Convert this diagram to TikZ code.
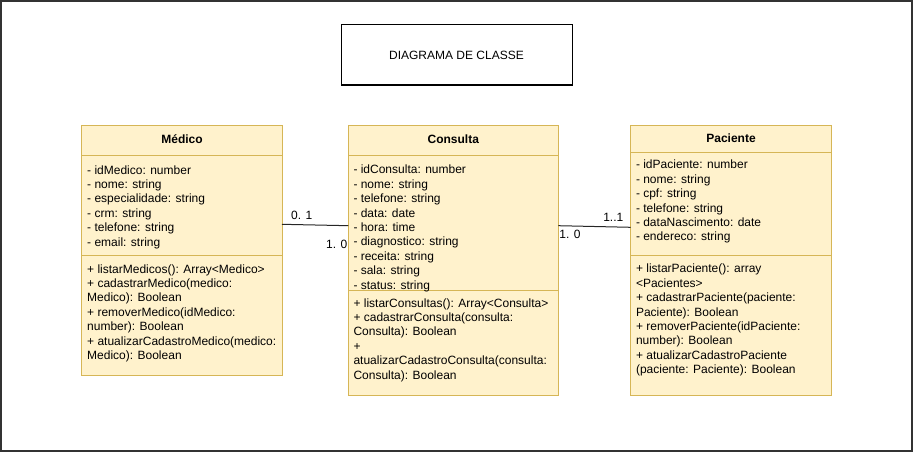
\documentclass[tikz,border=0pt]{standalone}
\usepackage{fontspec}
\setmainfont{Liberation Sans}
\definecolor{umlfill}{HTML}{FFF2CC}
\definecolor{umlstroke}{HTML}{D6B656}
\begin{document}
\begin{tikzpicture}[x=1pt,y=-1pt]
\tikzset{
  frame/.style={draw=black!80, line width=1.5pt},
  cls/.style={draw=umlstroke, fill=umlfill, line width=1pt, inner sep=0pt, outer sep=0pt, anchor=north west},
  sepline/.style={draw=umlstroke, line width=1pt},
  hdr/.style={font=\fontsize{12}{14.4}\selectfont\bfseries, inner sep=0pt, anchor=base},
  body/.style={font=\fontsize{12}{14.4}\selectfont, align=left, inner sep=0pt, anchor=north west},
  mult/.style={font=\fontsize{12}{14.4}\selectfont, inner sep=0pt, anchor=center},
  titlebox/.style={draw=black, line width=1pt, font=\fontsize{12}{14.4}\selectfont, minimum width=231pt, minimum height=60pt, inner sep=0pt},
  assoc/.style={draw=black!85, line width=1pt},
}
\useasboundingbox (0,0) rectangle (913,452);
\draw[frame] (1,1) rectangle (912,451);

% title
\node[titlebox] (title) at (456.5,55) {DIAGRAMA DE CLASSE};

% Medico
\node[cls, minimum width=200.5pt, minimum height=250pt] (medico) at (81.5,125) {};
\draw[sepline] (81.5,155) -- (282,155);
\draw[sepline] (81.5,255.5) -- (282,255.5);
\node[hdr] (medicoH) at (182,143.6) {Médico};
\node[body] (medicoA) at (87,163.9) {\strut- idMedico: number\\- nome: string\\- especialidade: string\\- crm: string\\- telefone: string\\- email: string};
\node[body] (medicoM) at (87,262.9) {\strut+ listarMedicos(): Array<Medico>\\+ cadastrarMedico(medico:\\Medico): Boolean\\+ removerMedico(idMedico:\\number): Boolean\\+ atualizarCadastroMedico(medico:\\Medico): Boolean};

% Consulta
\node[cls, minimum width=210pt, minimum height=270pt] (consulta) at (348.3,125) {};
\draw[sepline] (348.3,155) -- (558.3,155);
\draw[sepline] (348.3,290.7) -- (558.3,290.7);
\node[hdr] (consultaH) at (453.3,143.3) {Consulta};
\node[body] (consultaA) at (353.3,163.6) {\strut- idConsulta: number\\- nome: string\\- telefone: string\\- data: date\\- hora: time\\- diagnostico: string\\- receita: string\\- sala: string\\- status: string};
\node[body] (consultaM) at (353.3,296.9) {\strut+ listarConsultas(): Array<Consulta>\\+ cadastrarConsulta(consulta:\\Consulta): Boolean\\+\\atualizarCadastroConsulta(consulta:\\Consulta): Boolean};

% Paciente
\node[cls, minimum width=200.5pt, minimum height=270pt] (paciente) at (630.7,125) {};
\draw[sepline] (630.7,152) -- (831.2,152);
\draw[sepline] (630.7,255) -- (831.2,255);
\node[hdr] (pacienteH) at (731,142.8) {Paciente};
\node[body] (pacienteA) at (635.8,158.6) {\strut- idPaciente: number\\- nome: string\\- cpf: string\\- telefone: string\\- dataNascimento: date\\- endereco: string};
\node[body] (pacienteM) at (635.8,262.6) {\strut+ listarPaciente(): array\\<Pacientes>\\+ cadastrarPaciente(paciente:\\Paciente): Boolean\\+ removerPaciente(idPaciente:\\number): Boolean\\+ atualizarCadastroPaciente\\(paciente: Paciente): Boolean};

% associations
\path (medico.north east) ++(0,99.3) coordinate (mcA);
\path (consulta.north west) ++(0,100.7) coordinate (mcB);
\path (consulta.north east) ++(0,100.7) coordinate (cpA);
\path (paciente.north west) ++(0,102.3) coordinate (cpB);
\draw[assoc] (mcA) -- (mcB);
\draw[assoc] (cpA) -- (cpB);

\node[mult] (m01) at (301.7,215) {0. 1};
\node[mult] (m10a) at (336.7,244.3) {1. 0};
\node[mult] (m11) at (613.3,217.2) {1..1};
\node[mult] (m10b) at (570,234.3) {1. 0};
\end{tikzpicture}
\end{document}
